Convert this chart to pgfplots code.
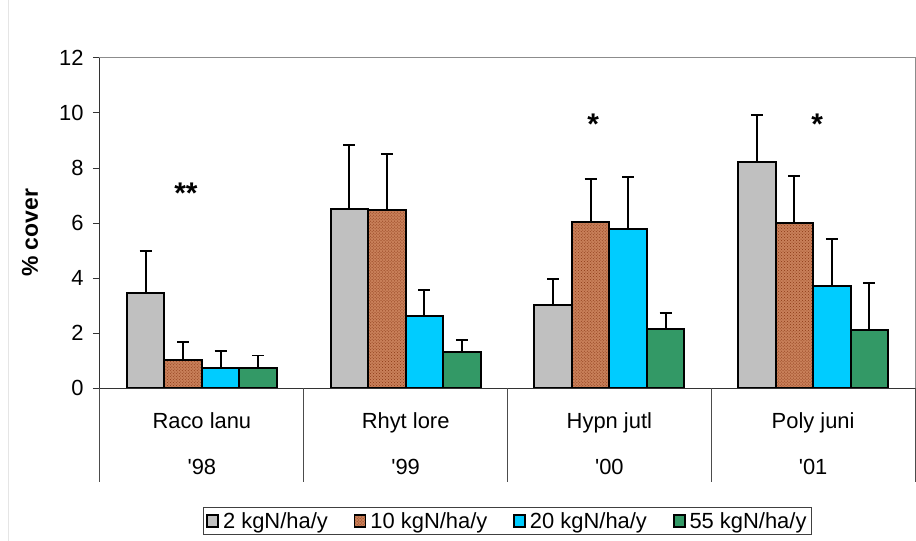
\documentclass[border=0pt]{standalone}
\usepackage{fontspec}
\setmainfont{Liberation Sans}
\usepackage{pgfplots}
\pgfplotsset{compat=1.18}
\usetikzlibrary{patterns}
\definecolor{cgray}{RGB}{192,192,192}
\definecolor{ccyan}{RGB}{0,204,255}
\definecolor{cgreen}{RGB}{51,153,102}
\definecolor{cbrownbg}{RGB}{200,128,90}
\definecolor{cbrowndot}{RGB}{140,55,20}
\begin{document}
\begin{tikzpicture}
\begin{axis}[
  at={(0,0)}, anchor=south west,
  scale only axis, width=815bp, height=330bp,
  xmin=0, xmax=4, ymin=0, ymax=12,
  ytick={0,2,...,12},
  xtick={0.5,1.5,2.5,3.5},
  xticklabels={{Raco lanu\\[20bp]\textquotesingle98},{Rhyt lore\\[20bp]\textquotesingle99},{Hypn jutl\\[20bp]\textquotesingle00},{Poly juni\\[20bp]\textquotesingle01}},
  xticklabel style={align=center, yshift=-14bp},
  yticklabel style={xshift=-6bp},
  xtick style={draw=none},
  ytick style={black!80, line width=1bp},
  tick align=outside, major tick length=7bp,
  ytick pos=left,
  /pgf/number format/assume math mode=true,
  ticklabel style={font=\fontsize{22}{26}\selectfont},
  axis line style={draw=gray!90, line width=1bp},
  ylabel={\% cover},
  every axis y label/.style={at={(rel axis cs:0,0.47)}, xshift=-70bp, rotate=90, anchor=center, font=\fontsize{23}{27}\selectfont\bfseries},
  ybar=0pt, bar width=0.184,
  clip=false,
  legend columns=4,
  legend style={at={(0.5,-0.403)}, anchor=center, draw=black!75, line width=1bp,
    font=\fontsize{22}{26}\selectfont, inner sep=3bp,
    /tikz/every even column/.append style={column sep=24bp},
    /tikz/every odd column/.append style={column sep=2bp}},
  legend image code/.code={\draw[#1, line width=1.6bp] (0bp,-6bp) rectangle (11bp,6bp);},
  error bars/y dir=plus, error bars/y explicit,
  error bars/error bar style={black, line width=1.8bp},
  error bars/error mark options={black, line width=1.8bp, mark size=6bp, rotate=90},
]
\addplot[fill=cgray, draw=black, line width=2bp] coordinates {
  (0.5,3.47) +- (0,1.50) (1.5,6.51) +- (0,2.33) (2.5,3.01) +- (0,0.95) (3.5,8.21) +- (0,1.71)};
\addplot[fill=cbrownbg, draw=black, line width=2bp, postaction={pattern=crosshatch dots, pattern color=cbrowndot}] coordinates {
  (0.5,1.02) +- (0,0.64) (1.5,6.48) +- (0,2.03) (2.5,6.04) +- (0,1.57) (3.5,6.00) +- (0,1.70)};
\addplot[fill=ccyan, draw=black, line width=2bp] coordinates {
  (0.5,0.74) +- (0,0.62) (1.5,2.62) +- (0,0.94) (2.5,5.77) +- (0,1.90) (3.5,3.70) +- (0,1.72)};
\addplot[fill=cgreen, draw=black, line width=2bp] coordinates {
  (0.5,0.72) +- (0,0.46) (1.5,1.30) +- (0,0.45) (2.5,2.16) +- (0,0.57) (3.5,2.10) +- (0,1.72)};
\legend{2 kgN/ha/y, 10 kgN/ha/y, 20 kgN/ha/y, 55 kgN/ha/y}
\draw[black!80, line width=1bp] (rel axis cs:0,1) -- (rel axis cs:0,0) -- (rel axis cs:1,0);
\pgfplotsinvokeforeach{0,1,2,3,4}{\draw[black!70, line width=1bp] (axis cs:#1,0) -- ++(0,-94bp);}
\node[font=\fontsize{30}{30}\selectfont\bfseries] at (axis cs:0.422,7.09) {**};
\node[font=\fontsize{30}{30}\selectfont\bfseries] at (axis cs:2.42,9.61) {*};
\node[font=\fontsize{30}{30}\selectfont\bfseries] at (axis cs:3.52,9.61) {*};
\end{axis}
\draw[black!10, line width=1bp] (-91bp,-153bp) -- (-91bp,388bp);
\pgfresetboundingbox
\path (-100bp,-153bp) rectangle (816bp,388bp);
\end{tikzpicture}
\end{document}
